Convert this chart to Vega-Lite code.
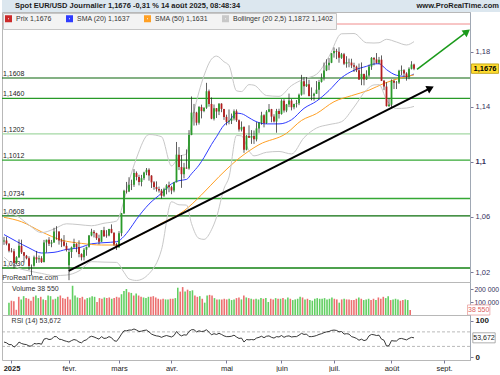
{
"$schema": "https://vega.github.io/schema/vega-lite/v6.json",
"padding": 0,
"background": "white",
"spacing": 0,
"bounds": "flush",
"config": {
  "font": "Liberation Sans",
  "view": {"stroke": "#b8b8b8"},
  "concat": {"spacing": 0},
  "axis": {"grid": false, "title": null, "labelFontSize": 7.5, "labelColor": "#34305a", "domainColor": "#a0a8b4", "tickColor": "#7a7a9a", "tickSize": 3, "labelPadding": 2, "labelOverlap": false, "labelFlush": false}
},
"resolve": {"scale": {"x": "independent", "y": "independent", "color": "independent", "stroke": "independent", "strokeWidth": "independent"}, "legend": {"color": "independent"}},
"datasets": {
  "entete": [{"k": "titre", "t": "Spot EUR/USD Journalier 1,1676 -0,31 % 14 août 2025, 08:48:34"}, {"k": "site", "t": "www.ProRealTime.com"}],
  "niveaux": [
    {"p": 1.2, "k": "r"},
    {"p": 1.1608, "k": "a", "t": "1,1608"},
    {"p": 1.146, "k": "b", "t": "1,1460"},
    {"p": 1.1202, "k": "c", "t": "1,1202"},
    {"p": 1.1012, "k": "e", "t": "1,1012"},
    {"p": 1.0734, "k": "e", "t": "1,0734"},
    {"p": 1.0608, "k": "d", "t": "1,0608"},
    {"p": 1.023, "k": "f", "t": "1,0230"}
  ],
  "tendances": [
    {"nom": "support", "x1": 22.9, "p1": 1.0209, "x2": 167.6, "p2": 1.1535},
    {"nom": "objectif", "x1": 162.2, "p1": 1.1671, "x2": 182.2, "p2": 1.1944}
  ],
  "etiquettes": [
    {"panneau": "prix", "val": 1.1676, "t": "1,1676"},
    {"panneau": "volume", "val": 38550, "t": "38 550"},
    {"panneau": "rsi", "val": 53.672, "t": "53,672"}
  ],
  "rsiniv": [{"n": 70}, {"n": 30}],
  "indicateurs": [
    {"i": -3, "s": "m20", "v": 1.0472}, {"i": 2, "s": "m20", "v": 1.0422}, {"i": 7, "s": "m20", "v": 1.0375}, {"i": 12, "s": "m20", "v": 1.0338}, {"i": 17, "s": "m20", "v": 1.0343}, {"i": 22, "s": "m20", "v": 1.0364}, {"i": 27, "s": "m20", "v": 1.0376}, {"i": 32, "s": "m20", "v": 1.0405}, {"i": 37, "s": "m20", "v": 1.0413}, {"i": 42, "s": "m20", "v": 1.042}, {"i": 45, "s": "m20", "v": 1.0459}, {"i": 47, "s": "m20", "v": 1.0504}, {"i": 50, "s": "m20", "v": 1.0583}, {"i": 55, "s": "m20", "v": 1.0693}, {"i": 60, "s": "m20", "v": 1.0772}, {"i": 64, "s": "m20", "v": 1.084}, {"i": 67, "s": "m20", "v": 1.0863}, {"i": 70, "s": "m20", "v": 1.0872}, {"i": 72, "s": "m20", "v": 1.0913}, {"i": 75, "s": "m20", "v": 1.0976}, {"i": 77, "s": "m20", "v": 1.1031}, {"i": 80, "s": "m20", "v": 1.1126}, {"i": 82, "s": "m20", "v": 1.1182}, {"i": 85, "s": "m20", "v": 1.1266}, {"i": 87, "s": "m20", "v": 1.1294}, {"i": 90, "s": "m20", "v": 1.1353}, {"i": 92, "s": "m20", "v": 1.1349}, {"i": 95, "s": "m20", "v": 1.132}, {"i": 97, "s": "m20", "v": 1.1299}, {"i": 102, "s": "m20", "v": 1.1275}, {"i": 107, "s": "m20", "v": 1.1275}, {"i": 112, "s": "m20", "v": 1.1305}, {"i": 117, "s": "m20", "v": 1.1388}, {"i": 122, "s": "m20", "v": 1.144}, {"i": 127, "s": "m20", "v": 1.1517}, {"i": 132, "s": "m20", "v": 1.161}, {"i": 137, "s": "m20", "v": 1.1664}, {"i": 142, "s": "m20", "v": 1.1693}, {"i": 145, "s": "m20", "v": 1.171}, {"i": 147, "s": "m20", "v": 1.1712}, {"i": 150, "s": "m20", "v": 1.1669}, {"i": 154, "s": "m20", "v": 1.1628}, {"i": 158, "s": "m20", "v": 1.1619}, {"i": 161, "s": "m20", "v": 1.1637},
    {"i": -3, "s": "m50", "v": 1.0597}, {"i": 4, "s": "m50", "v": 1.0565}, {"i": 12, "s": "m50", "v": 1.0492}, {"i": 20, "s": "m50", "v": 1.0432}, {"i": 28, "s": "m50", "v": 1.0408}, {"i": 36, "s": "m50", "v": 1.0396}, {"i": 42, "s": "m50", "v": 1.0396}, {"i": 49, "s": "m50", "v": 1.0445}, {"i": 60, "s": "m50", "v": 1.0554}, {"i": 69, "s": "m50", "v": 1.0644}, {"i": 76, "s": "m50", "v": 1.076}, {"i": 83, "s": "m50", "v": 1.0892}, {"i": 91, "s": "m50", "v": 1.1025}, {"i": 99, "s": "m50", "v": 1.1124}, {"i": 110, "s": "m50", "v": 1.1207}, {"i": 116, "s": "m50", "v": 1.13}, {"i": 122, "s": "m50", "v": 1.135}, {"i": 129, "s": "m50", "v": 1.1436}, {"i": 136, "s": "m50", "v": 1.148}, {"i": 143, "s": "m50", "v": 1.152}, {"i": 149, "s": "m50", "v": 1.1569}, {"i": 155, "s": "m50", "v": 1.1605}, {"i": 161, "s": "m50", "v": 1.1631},
    {"i": -3, "s": "bb", "b": "haut", "v": 1.0635}, {"i": 2, "s": "bb", "b": "haut", "v": 1.0609}, {"i": 7, "s": "bb", "b": "haut", "v": 1.0541}, {"i": 12, "s": "bb", "b": "haut", "v": 1.0486}, {"i": 17, "s": "bb", "b": "haut", "v": 1.0512}, {"i": 22, "s": "bb", "b": "haut", "v": 1.055}, {"i": 27, "s": "bb", "b": "haut", "v": 1.0544}, {"i": 32, "s": "bb", "b": "haut", "v": 1.0536}, {"i": 37, "s": "bb", "b": "haut", "v": 1.0554}, {"i": 42, "s": "bb", "b": "haut", "v": 1.057}, {"i": 45, "s": "bb", "b": "haut", "v": 1.072}, {"i": 47, "s": "bb", "b": "haut", "v": 1.0858}, {"i": 50, "s": "bb", "b": "haut", "v": 1.1027}, {"i": 55, "s": "bb", "b": "haut", "v": 1.1198}, {"i": 60, "s": "bb", "b": "haut", "v": 1.1182}, {"i": 64, "s": "bb", "b": "haut", "v": 1.097}, {"i": 67, "s": "bb", "b": "haut", "v": 1.1038}, {"i": 70, "s": "bb", "b": "haut", "v": 1.1058}, {"i": 72, "s": "bb", "b": "haut", "v": 1.1274}, {"i": 75, "s": "bb", "b": "haut", "v": 1.1508}, {"i": 77, "s": "bb", "b": "haut", "v": 1.1625}, {"i": 80, "s": "bb", "b": "haut", "v": 1.1745}, {"i": 82, "s": "bb", "b": "haut", "v": 1.1767}, {"i": 85, "s": "bb", "b": "haut", "v": 1.1726}, {"i": 87, "s": "bb", "b": "haut", "v": 1.1699}, {"i": 90, "s": "bb", "b": "haut", "v": 1.1515}, {"i": 92, "s": "bb", "b": "haut", "v": 1.151}, {"i": 95, "s": "bb", "b": "haut", "v": 1.156}, {"i": 97, "s": "bb", "b": "haut", "v": 1.1556}, {"i": 102, "s": "bb", "b": "haut", "v": 1.1481}, {"i": 107, "s": "bb", "b": "haut", "v": 1.1475}, {"i": 112, "s": "bb", "b": "haut", "v": 1.1553}, {"i": 117, "s": "bb", "b": "haut", "v": 1.1601}, {"i": 122, "s": "bb", "b": "haut", "v": 1.1635}, {"i": 127, "s": "bb", "b": "haut", "v": 1.1764}, {"i": 132, "s": "bb", "b": "haut", "v": 1.1929}, {"i": 137, "s": "bb", "b": "haut", "v": 1.1931}, {"i": 142, "s": "bb", "b": "haut", "v": 1.1864}, {"i": 145, "s": "bb", "b": "haut", "v": 1.1862}, {"i": 147, "s": "bb", "b": "haut", "v": 1.1864}, {"i": 150, "s": "bb", "b": "haut", "v": 1.1889}, {"i": 154, "s": "bb", "b": "haut", "v": 1.1869}, {"i": 158, "s": "bb", "b": "haut", "v": 1.1848}, {"i": 161, "s": "bb", "b": "haut", "v": 1.1872},
    {"i": -3, "s": "bb", "b": "bas", "v": 1.0308}, {"i": 2, "s": "bb", "b": "bas", "v": 1.0235}, {"i": 7, "s": "bb", "b": "bas", "v": 1.0208}, {"i": 12, "s": "bb", "b": "bas", "v": 1.019}, {"i": 17, "s": "bb", "b": "bas", "v": 1.0174}, {"i": 22, "s": "bb", "b": "bas", "v": 1.0178}, {"i": 27, "s": "bb", "b": "bas", "v": 1.0208}, {"i": 32, "s": "bb", "b": "bas", "v": 1.0275}, {"i": 37, "s": "bb", "b": "bas", "v": 1.0272}, {"i": 42, "s": "bb", "b": "bas", "v": 1.027}, {"i": 45, "s": "bb", "b": "bas", "v": 1.0198}, {"i": 47, "s": "bb", "b": "bas", "v": 1.015}, {"i": 50, "s": "bb", "b": "bas", "v": 1.0139}, {"i": 55, "s": "bb", "b": "bas", "v": 1.0188}, {"i": 60, "s": "bb", "b": "bas", "v": 1.0362}, {"i": 64, "s": "bb", "b": "bas", "v": 1.071}, {"i": 67, "s": "bb", "b": "bas", "v": 1.0688}, {"i": 70, "s": "bb", "b": "bas", "v": 1.0686}, {"i": 72, "s": "bb", "b": "bas", "v": 1.0552}, {"i": 75, "s": "bb", "b": "bas", "v": 1.0444}, {"i": 77, "s": "bb", "b": "bas", "v": 1.0437}, {"i": 80, "s": "bb", "b": "bas", "v": 1.0507}, {"i": 82, "s": "bb", "b": "bas", "v": 1.0597}, {"i": 85, "s": "bb", "b": "bas", "v": 1.0806}, {"i": 87, "s": "bb", "b": "bas", "v": 1.0889}, {"i": 90, "s": "bb", "b": "bas", "v": 1.1191}, {"i": 92, "s": "bb", "b": "bas", "v": 1.1188}, {"i": 95, "s": "bb", "b": "bas", "v": 1.108}, {"i": 97, "s": "bb", "b": "bas", "v": 1.1043}, {"i": 102, "s": "bb", "b": "bas", "v": 1.1069}, {"i": 107, "s": "bb", "b": "bas", "v": 1.1075}, {"i": 112, "s": "bb", "b": "bas", "v": 1.1057}, {"i": 117, "s": "bb", "b": "bas", "v": 1.1175}, {"i": 122, "s": "bb", "b": "bas", "v": 1.1245}, {"i": 127, "s": "bb", "b": "bas", "v": 1.127}, {"i": 132, "s": "bb", "b": "bas", "v": 1.1291}, {"i": 137, "s": "bb", "b": "bas", "v": 1.1397}, {"i": 142, "s": "bb", "b": "bas", "v": 1.1522}, {"i": 145, "s": "bb", "b": "bas", "v": 1.1558}, {"i": 147, "s": "bb", "b": "bas", "v": 1.156}, {"i": 150, "s": "bb", "b": "bas", "v": 1.145}, {"i": 154, "s": "bb", "b": "bas", "v": 1.1387}, {"i": 158, "s": "bb", "b": "bas", "v": 1.139}, {"i": 161, "s": "bb", "b": "bas", "v": 1.1402}
  ],
  "bougies": [
    {"i":-3,"o":1.0422,"h":1.0455,"l":1.0397,"c":1.0429,"v":95000,"r":42},
    {"i":-2,"o":1.0429,"h":1.0456,"l":1.0394,"c":1.0406,"v":110000,"r":40},
    {"i":-1,"o":1.0406,"h":1.041,"l":1.0343,"c":1.0354,"v":105000,"r":35},
    {"i":0,"o":1.0354,"h":1.0374,"l":1.0342,"c":1.035,"v":40000,"r":35},
    {"i":1,"o":1.035,"h":1.0368,"l":1.0226,"c":1.0266,"v":140000,"r":28},
    {"i":2,"o":1.0266,"h":1.0315,"l":1.0255,"c":1.0308,"v":120000,"r":33},
    {"i":3,"o":1.0308,"h":1.0437,"l":1.0301,"c":1.039,"v":145000,"r":42},
    {"i":4,"o":1.039,"h":1.0435,"l":1.0331,"c":1.0343,"v":130000,"r":38},
    {"i":5,"o":1.0343,"h":1.0345,"l":1.027,"c":1.0318,"v":125000,"r":36},
    {"i":6,"o":1.0318,"h":1.0324,"l":1.0292,"c":1.03,"v":110000,"r":35},
    {"i":7,"o":1.03,"h":1.0314,"l":1.0214,"c":1.0244,"v":140000,"r":31},
    {"i":8,"o":1.0244,"h":1.0255,"l":1.0178,"c":1.0245,"v":150000,"r":31},
    {"i":9,"o":1.0245,"h":1.0319,"l":1.0239,"c":1.0307,"v":130000,"r":38},
    {"i":10,"o":1.0307,"h":1.0353,"l":1.0266,"c":1.0292,"v":140000,"r":37},
    {"i":11,"o":1.0292,"h":1.032,"l":1.0268,"c":1.03,"v":120000,"r":38},
    {"i":12,"o":1.03,"h":1.0315,"l":1.0266,"c":1.0272,"v":115000,"r":36},
    {"i":13,"o":1.0272,"h":1.0433,"l":1.0269,"c":1.0415,"v":150000,"r":50},
    {"i":14,"o":1.0415,"h":1.0435,"l":1.0342,"c":1.0434,"v":145000,"r":52},
    {"i":15,"o":1.0434,"h":1.0453,"l":1.0389,"c":1.0406,"v":120000,"r":49},
    {"i":16,"o":1.0406,"h":1.0433,"l":1.038,"c":1.0415,"v":125000,"r":50},
    {"i":17,"o":1.0415,"h":1.0521,"l":1.0412,"c":1.0495,"v":140000,"r":57},
    {"i":18,"o":1.0495,"h":1.0533,"l":1.0434,"c":1.0494,"v":150000,"r":57},
    {"i":19,"o":1.0494,"h":1.0495,"l":1.0399,"c":1.0429,"v":130000,"r":50},
    {"i":20,"o":1.0429,"h":1.0444,"l":1.0381,"c":1.0421,"v":125000,"r":49},
    {"i":21,"o":1.0421,"h":1.0468,"l":1.0385,"c":1.039,"v":140000,"r":46},
    {"i":22,"o":1.039,"h":1.0413,"l":1.0349,"c":1.0362,"v":120000,"r":44},
    {"i":23,"o":1.025,"h":1.0368,"l":1.0141,"c":1.0345,"v":225000,"r":42},
    {"i":24,"o":1.0345,"h":1.0385,"l":1.0302,"c":1.0379,"v":150000,"r":46},
    {"i":25,"o":1.0379,"h":1.0442,"l":1.0374,"c":1.0404,"v":135000,"r":49},
    {"i":26,"o":1.0404,"h":1.0409,"l":1.0344,"c":1.0382,"v":130000,"r":47},
    {"i":27,"o":1.0382,"h":1.043,"l":1.0307,"c":1.033,"v":140000,"r":42},
    {"i":28,"o":1.033,"h":1.0336,"l":1.0284,"c":1.0307,"v":120000,"r":40},
    {"i":29,"o":1.0307,"h":1.0375,"l":1.0284,"c":1.0362,"v":130000,"r":46},
    {"i":30,"o":1.0362,"h":1.0384,"l":1.0318,"c":1.0383,"v":135000,"r":48},
    {"i":31,"o":1.0383,"h":1.0469,"l":1.0377,"c":1.0465,"v":145000,"r":55},
    {"i":32,"o":1.0465,"h":1.0514,"l":1.0459,"c":1.0492,"v":140000,"r":58},
    {"i":33,"o":1.0492,"h":1.0505,"l":1.0451,"c":1.0482,"v":100000,"r":56},
    {"i":34,"o":1.0482,"h":1.0485,"l":1.0433,"c":1.0446,"v":130000,"r":53},
    {"i":35,"o":1.0446,"h":1.0471,"l":1.0401,"c":1.042,"v":125000,"r":50},
    {"i":36,"o":1.042,"h":1.0505,"l":1.0419,"c":1.0504,"v":135000,"r":57},
    {"i":37,"o":1.0504,"h":1.0528,"l":1.0455,"c":1.0459,"v":130000,"r":52},
    {"i":38,"o":1.047,"h":1.0504,"l":1.0449,"c":1.0466,"v":135000,"r":53},
    {"i":39,"o":1.0466,"h":1.0514,"l":1.0459,"c":1.0513,"v":125000,"r":57},
    {"i":40,"o":1.0513,"h":1.0546,"l":1.0481,"c":1.0485,"v":130000,"r":54},
    {"i":41,"o":1.0485,"h":1.0488,"l":1.039,"c":1.04,"v":140000,"r":46},
    {"i":42,"o":1.04,"h":1.0411,"l":1.036,"c":1.0378,"v":135000,"r":44},
    {"i":43,"o":1.0378,"h":1.0497,"l":1.0378,"c":1.0482,"v":160000,"r":53},
    {"i":44,"o":1.0482,"h":1.0629,"l":1.046,"c":1.0627,"v":185000,"r":64},
    {"i":45,"o":1.0627,"h":1.0797,"l":1.0621,"c":1.0789,"v":200000,"r":73},
    {"i":46,"o":1.0789,"h":1.0854,"l":1.077,"c":1.0785,"v":175000,"r":73},
    {"i":47,"o":1.0785,"h":1.0888,"l":1.078,"c":1.0833,"v":170000,"r":75},
    {"i":48,"o":1.0835,"h":1.087,"l":1.0795,"c":1.0833,"v":150000,"r":75},
    {"i":49,"o":1.0833,"h":1.0947,"l":1.0818,"c":1.0919,"v":165000,"r":78},
    {"i":50,"o":1.0919,"h":1.093,"l":1.0865,"c":1.089,"v":150000,"r":75},
    {"i":51,"o":1.089,"h":1.0906,"l":1.0829,"c":1.0853,"v":140000,"r":71},
    {"i":52,"o":1.0853,"h":1.0905,"l":1.0822,"c":1.0881,"v":135000,"r":72},
    {"i":53,"o":1.0881,"h":1.0928,"l":1.0867,"c":1.0923,"v":130000,"r":74},
    {"i":54,"o":1.0923,"h":1.0955,"l":1.0903,"c":1.0942,"v":140000,"r":75},
    {"i":55,"o":1.0942,"h":1.0953,"l":1.0863,"c":1.09,"v":140000,"r":70},
    {"i":56,"o":1.09,"h":1.0903,"l":1.081,"c":1.0851,"v":145000,"r":64},
    {"i":57,"o":1.0851,"h":1.086,"l":1.0797,"c":1.0817,"v":135000,"r":61},
    {"i":58,"o":1.0817,"h":1.0858,"l":1.0784,"c":1.0802,"v":125000,"r":59},
    {"i":59,"o":1.0802,"h":1.082,"l":1.0777,"c":1.0791,"v":120000,"r":58},
    {"i":60,"o":1.0791,"h":1.0803,"l":1.0733,"c":1.0753,"v":125000,"r":55},
    {"i":61,"o":1.0753,"h":1.0812,"l":1.0745,"c":1.08,"v":120000,"r":58},
    {"i":62,"o":1.08,"h":1.0838,"l":1.0764,"c":1.0829,"v":120000,"r":60},
    {"i":63,"o":1.0829,"h":1.0856,"l":1.0779,"c":1.0816,"v":125000,"r":58},
    {"i":64,"o":1.0816,"h":1.0826,"l":1.0765,"c":1.0792,"v":125000,"r":56},
    {"i":65,"o":1.0792,"h":1.0854,"l":1.0779,"c":1.0852,"v":130000,"r":60},
    {"i":66,"o":1.0852,"h":1.1144,"l":1.085,"c":1.1052,"v":210000,"r":71},
    {"i":67,"o":1.1052,"h":1.1107,"l":1.094,"c":1.0962,"v":180000,"r":63},
    {"i":68,"o":1.0962,"h":1.1049,"l":1.0811,"c":1.091,"v":215000,"r":59},
    {"i":69,"o":1.091,"h":1.0992,"l":1.088,"c":1.0958,"v":180000,"r":62},
    {"i":70,"o":1.0958,"h":1.109,"l":1.095,"c":1.0951,"v":195000,"r":61},
    {"i":71,"o":1.0951,"h":1.123,"l":1.0943,"c":1.1195,"v":185000,"r":71},
    {"i":72,"o":1.1195,"h":1.1474,"l":1.1193,"c":1.1357,"v":190000,"r":76},
    {"i":73,"o":1.136,"h":1.142,"l":1.1263,"c":1.1357,"v":150000,"r":76},
    {"i":74,"o":1.1357,"h":1.1363,"l":1.1264,"c":1.1284,"v":140000,"r":70},
    {"i":75,"o":1.1284,"h":1.1405,"l":1.127,"c":1.1397,"v":145000,"r":73},
    {"i":76,"o":1.1397,"h":1.1415,"l":1.1315,"c":1.1368,"v":125000,"r":71},
    {"i":77,"o":1.1368,"h":1.1395,"l":1.136,"c":1.1393,"v":95000,"r":72},
    {"i":78,"o":1.1393,"h":1.1573,"l":1.1384,"c":1.1512,"v":150000,"r":76},
    {"i":79,"o":1.1512,"h":1.1524,"l":1.14,"c":1.142,"v":155000,"r":69},
    {"i":80,"o":1.142,"h":1.1467,"l":1.1309,"c":1.1313,"v":150000,"r":62},
    {"i":81,"o":1.1313,"h":1.1416,"l":1.13,"c":1.1389,"v":130000,"r":65},
    {"i":82,"o":1.1389,"h":1.139,"l":1.1318,"c":1.1365,"v":120000,"r":63},
    {"i":83,"o":1.1365,"h":1.1426,"l":1.1339,"c":1.1422,"v":120000,"r":66},
    {"i":84,"o":1.1422,"h":1.1425,"l":1.136,"c":1.1384,"v":120000,"r":63},
    {"i":85,"o":1.1384,"h":1.1384,"l":1.1304,"c":1.1326,"v":125000,"r":59},
    {"i":86,"o":1.1326,"h":1.1342,"l":1.1265,"c":1.129,"v":120000,"r":57},
    {"i":87,"o":1.129,"h":1.138,"l":1.1272,"c":1.1298,"v":125000,"r":57},
    {"i":88,"o":1.1298,"h":1.135,"l":1.1274,"c":1.1315,"v":115000,"r":58},
    {"i":89,"o":1.1315,"h":1.138,"l":1.13,"c":1.1367,"v":120000,"r":61},
    {"i":90,"o":1.1367,"h":1.138,"l":1.129,"c":1.1302,"v":130000,"r":56},
    {"i":91,"o":1.1302,"h":1.1307,"l":1.1219,"c":1.1234,"v":135000,"r":52},
    {"i":92,"o":1.1234,"h":1.1293,"l":1.122,"c":1.1252,"v":120000,"r":53},
    {"i":93,"o":1.1252,"h":1.1258,"l":1.1065,"c":1.1088,"v":150000,"r":42},
    {"i":94,"o":1.1088,"h":1.1195,"l":1.1083,"c":1.1188,"v":135000,"r":49},
    {"i":95,"o":1.1188,"h":1.1265,"l":1.1173,"c":1.1175,"v":130000,"r":48},
    {"i":96,"o":1.1175,"h":1.123,"l":1.113,"c":1.1187,"v":125000,"r":49},
    {"i":97,"o":1.1187,"h":1.1227,"l":1.113,"c":1.1163,"v":120000,"r":48},
    {"i":98,"o":1.1163,"h":1.1288,"l":1.1148,"c":1.1242,"v":125000,"r":53},
    {"i":99,"o":1.1242,"h":1.1287,"l":1.121,"c":1.1283,"v":120000,"r":55},
    {"i":100,"o":1.1283,"h":1.1363,"l":1.1269,"c":1.1337,"v":130000,"r":58},
    {"i":101,"o":1.1337,"h":1.1345,"l":1.125,"c":1.1281,"v":125000,"r":54},
    {"i":102,"o":1.1281,"h":1.1375,"l":1.1275,"c":1.1364,"v":130000,"r":58},
    {"i":103,"o":1.1364,"h":1.1419,"l":1.1359,"c":1.1382,"v":100000,"r":59},
    {"i":104,"o":1.1382,"h":1.1384,"l":1.1287,"c":1.1328,"v":125000,"r":55},
    {"i":105,"o":1.1328,"h":1.1345,"l":1.1285,"c":1.1292,"v":120000,"r":53},
    {"i":106,"o":1.1292,"h":1.1384,"l":1.1211,"c":1.1369,"v":130000,"r":57},
    {"i":107,"o":1.1369,"h":1.1385,"l":1.1314,"c":1.1347,"v":125000,"r":56},
    {"i":108,"o":1.1347,"h":1.1454,"l":1.1342,"c":1.1443,"v":125000,"r":60},
    {"i":109,"o":1.1443,"h":1.1455,"l":1.1357,"c":1.1372,"v":130000,"r":55},
    {"i":110,"o":1.1372,"h":1.142,"l":1.136,"c":1.1416,"v":120000,"r":58},
    {"i":111,"o":1.1416,"h":1.1495,"l":1.1397,"c":1.1444,"v":135000,"r":59},
    {"i":112,"o":1.1444,"h":1.1455,"l":1.1373,"c":1.1396,"v":125000,"r":56},
    {"i":113,"o":1.1396,"h":1.1422,"l":1.1381,"c":1.142,"v":115000,"r":57},
    {"i":114,"o":1.142,"h":1.1448,"l":1.1394,"c":1.1425,"v":120000,"r":57},
    {"i":115,"o":1.1425,"h":1.1495,"l":1.1411,"c":1.1487,"v":125000,"r":61},
    {"i":116,"o":1.1487,"h":1.1631,"l":1.148,"c":1.1584,"v":140000,"r":66},
    {"i":117,"o":1.1584,"h":1.1614,"l":1.1489,"c":1.1549,"v":135000,"r":63},
    {"i":118,"o":1.1549,"h":1.1615,"l":1.1543,"c":1.1563,"v":120000,"r":64},
    {"i":119,"o":1.1563,"h":1.1595,"l":1.1474,"c":1.1478,"v":125000,"r":57},
    {"i":120,"o":1.1478,"h":1.154,"l":1.1446,"c":1.148,"v":115000,"r":57},
    {"i":121,"o":1.148,"h":1.1501,"l":1.1444,"c":1.1494,"v":110000,"r":58},
    {"i":122,"o":1.1494,"h":1.1586,"l":1.1493,"c":1.1523,"v":125000,"r":60},
    {"i":123,"o":1.1523,"h":1.1595,"l":1.1453,"c":1.158,"v":130000,"r":63},
    {"i":124,"o":1.158,"h":1.1641,"l":1.1575,"c":1.161,"v":125000,"r":65},
    {"i":125,"o":1.161,"h":1.172,"l":1.159,"c":1.1663,"v":125000,"r":68},
    {"i":126,"o":1.1663,"h":1.1744,"l":1.1658,"c":1.17,"v":130000,"r":70},
    {"i":127,"o":1.17,"h":1.1753,"l":1.1665,"c":1.1719,"v":120000,"r":71},
    {"i":128,"o":1.1719,"h":1.1789,"l":1.1716,"c":1.1787,"v":125000,"r":74},
    {"i":129,"o":1.1787,"h":1.183,"l":1.1756,"c":1.1804,"v":135000,"r":75},
    {"i":130,"o":1.1804,"h":1.182,"l":1.1745,"c":1.1799,"v":125000,"r":74},
    {"i":131,"o":1.1799,"h":1.1831,"l":1.1719,"c":1.1755,"v":120000,"r":70},
    {"i":132,"o":1.1755,"h":1.179,"l":1.1747,"c":1.178,"v":95000,"r":71},
    {"i":133,"o":1.178,"h":1.179,"l":1.1702,"c":1.1712,"v":120000,"r":64},
    {"i":134,"o":1.1712,"h":1.1766,"l":1.1683,"c":1.1723,"v":125000,"r":65},
    {"i":135,"o":1.1723,"h":1.1749,"l":1.1686,"c":1.172,"v":120000,"r":64},
    {"i":136,"o":1.172,"h":1.1748,"l":1.168,"c":1.17,"v":120000,"r":57},
    {"i":137,"o":1.17,"h":1.1719,"l":1.1652,"c":1.169,"v":115000,"r":55},
    {"i":138,"o":1.169,"h":1.1698,"l":1.1651,"c":1.1665,"v":115000,"r":52},
    {"i":139,"o":1.1665,"h":1.1713,"l":1.1594,"c":1.1598,"v":125000,"r":47},
    {"i":140,"o":1.1598,"h":1.1721,"l":1.1556,"c":1.1638,"v":135000,"r":50},
    {"i":141,"o":1.1638,"h":1.164,"l":1.1555,"c":1.1597,"v":125000,"r":46},
    {"i":142,"o":1.1597,"h":1.1664,"l":1.1594,"c":1.1626,"v":115000,"r":48},
    {"i":143,"o":1.1626,"h":1.1705,"l":1.1615,"c":1.1691,"v":120000,"r":59},
    {"i":144,"o":1.1691,"h":1.176,"l":1.1667,"c":1.1754,"v":125000,"r":63},
    {"i":145,"o":1.1754,"h":1.176,"l":1.17,"c":1.1743,"v":115000,"r":62},
    {"i":146,"o":1.1743,"h":1.1789,"l":1.1713,"c":1.1718,"v":125000,"r":60},
    {"i":147,"o":1.1718,"h":1.1761,"l":1.1708,"c":1.1741,"v":115000,"r":61},
    {"i":148,"o":1.1741,"h":1.1772,"l":1.1586,"c":1.1588,"v":135000,"r":50},
    {"i":149,"o":1.1588,"h":1.1594,"l":1.152,"c":1.1546,"v":125000,"r":47},
    {"i":150,"o":1.1546,"h":1.1577,"l":1.1401,"c":1.1404,"v":140000,"r":31},
    {"i":151,"o":1.1404,"h":1.146,"l":1.14,"c":1.1415,"v":130000,"r":32},
    {"i":152,"o":1.1415,"h":1.1598,"l":1.1392,"c":1.1587,"v":145000,"r":46},
    {"i":153,"o":1.1587,"h":1.1597,"l":1.1528,"c":1.1573,"v":115000,"r":45},
    {"i":154,"o":1.1573,"h":1.1586,"l":1.1528,"c":1.1575,"v":120000,"r":45},
    {"i":155,"o":1.1575,"h":1.1668,"l":1.1565,"c":1.166,"v":125000,"r":51},
    {"i":156,"o":1.166,"h":1.1699,"l":1.1628,"c":1.1665,"v":120000,"r":52},
    {"i":157,"o":1.1665,"h":1.1672,"l":1.1618,"c":1.1641,"v":110000,"r":50},
    {"i":158,"o":1.1641,"h":1.165,"l":1.1589,"c":1.1615,"v":115000,"r":48},
    {"i":159,"o":1.1615,"h":1.1686,"l":1.1599,"c":1.1675,"v":120000,"r":52},
    {"i":160,"o":1.1675,"h":1.173,"l":1.167,"c":1.1706,"v":115000,"r":55},
    {"i":161,"o":1.1706,"h":1.1712,"l":1.1665,"c":1.1676,"v":38550,"r":53.672}
  ]
},
"vconcat": [
  {
    "width": 500, "height": 12,
    "view": {"fill": "#dce7ef", "stroke": null},
    "data": {"name": "entete"},
    "layer": [
      {"transform": [{"filter": "datum.k == 'titre'"}],
       "mark": {"type": "text", "align": "left", "fontWeight": "bold", "fontSize": 7.5, "color": "#1c1c1c"},
       "encoding": {"x": {"field": "k", "type": "nominal", "scale": {"type": "point", "domain": ["titre", "site"], "range": [13, 497], "padding": 0}, "axis": null}, "text": {"field": "t"}}},
      {"transform": [{"filter": "datum.k == 'site'"}],
       "mark": {"type": "text", "align": "right", "fontWeight": "bold", "fontSize": 7.5, "color": "#1c1c1c"},
       "encoding": {"x": {"field": "k", "type": "nominal", "scale": {"type": "point", "domain": ["titre", "site"], "range": [13, 497], "padding": 0}, "axis": null}, "text": {"field": "t"}}}
    ]
  },
  {
    "width": 468, "height": 270,
    "title": {"text": "ProRealTime.com", "orient": "bottom", "anchor": "start", "offset": -8, "fontSize": 7, "fontWeight": "normal", "color": "#333", "dx": 1},
    "layer": [
      {"data": {"name": "niveaux"}, "mark": {"type": "rule"},
       "encoding": {
         "y": {"field": "p", "type": "quantitative", "scale": {"domain": [1.01277, 1.20871], "nice": false, "zero": false},
               "axis": {"orient": "right", "values": [1.02, 1.04, 1.06, 1.08, 1.1, 1.12, 1.14, 1.16, 1.18, 1.2], "labelExpr": "replace(format(datum.value, '.2~f'), '.', ',')", "labelFontWeight": {"condition": {"test": "abs(datum.value*10 - round(datum.value*10)) < 0.001", "value": "bold"}, "value": "normal"}}},
         "stroke": {"field": "k", "type": "nominal", "scale": {"domain": ["r", "a", "b", "c", "d", "e", "f"], "range": ["#f08c8c", "#0a640a", "#289a28", "#a4d8a4", "#0b6e0b", "#34a834", "#128212"]}, "legend": null},
         "strokeWidth": {"field": "k", "type": "ordinal", "scale": {"domain": ["r", "a", "b", "c", "d", "e", "f"], "range": [1, 1.5, 2, 2, 3, 1.5, 2.5]}, "legend": null}
       }},
      {"data": {"name": "niveaux"}, "transform": [{"filter": "isValid(datum.t)"}],
       "mark": {"type": "text", "align": "left", "baseline": "bottom", "dx": 1, "dy": -1, "fontSize": 7, "color": "#222"},
       "encoding": {
         "x": {"datum": -3.8, "type": "quantitative", "scale": {"domain": [-3.8, 183.4], "nice": false, "zero": false}, "axis": null},
         "y": {"field": "p", "type": "quantitative"},
         "text": {"field": "t"}
       }},
      {"data": {"name": "indicateurs"}, "mark": {"type": "line", "strokeWidth": 1, "interpolate": "monotone"},
       "encoding": {
         "x": {"field": "i", "type": "quantitative"},
         "y": {"field": "v", "type": "quantitative"},
         "color": {"field": "s", "type": "nominal", "scale": {"domain": ["prix", "m20", "m50", "bb"], "range": ["#cc2a2a", "#2f3cff", "#ffa024", "#c8c8c8"]},
                   "legend": {"orient": "top-left", "direction": "horizontal", "title": null, "offset": 1, "padding": 2, "fillColor": "#f3f3f3", "strokeColor": "#c6c6c6", "symbolType": "square", "symbolSize": 16, "symbolStrokeWidth": 3, "labelFontSize": 7, "labelColor": "#333", "columnPadding": 9, "labelOffset": 4, "labelLimit": 300,
                              "labelExpr": "datum.label == 'prix' ? 'Prix 1,1676' : datum.label == 'm20' ? 'SMA (20) 1,1637' : datum.label == 'm50' ? 'SMA (50) 1,1631' : 'Bollinger (20 2,5) 1,1872 1,1402'"}},
         "detail": {"field": "b"}
       }},
      {"data": {"name": "bougies"}, "mark": {"type": "rule", "color": "#1a1a1a", "strokeWidth": 0.7},
       "encoding": {"x": {"field": "i", "type": "quantitative"}, "y": {"field": "l", "type": "quantitative"}, "y2": {"field": "h"}}},
      {"data": {"name": "bougies"}, "mark": {"type": "rule", "strokeWidth": 1.8},
       "encoding": {"x": {"field": "i", "type": "quantitative"}, "y": {"field": "o", "type": "quantitative"}, "y2": {"field": "c"},
                    "color": {"condition": {"test": "datum.c >= datum.o", "value": "#2a9a2a"}, "value": "#b41e1e"}}},
      {"data": {"name": "tendances"}, "transform": [{"filter": "datum.nom == 'support'"}], "mark": {"type": "rule", "color": "#000", "strokeWidth": 2},
       "encoding": {"x": {"field": "x1", "type": "quantitative"}, "y": {"field": "p1", "type": "quantitative"}, "x2": {"field": "x2"}, "y2": {"field": "p2"}}},
      {"data": {"name": "tendances"}, "transform": [{"filter": "datum.nom == 'objectif'"}], "mark": {"type": "rule", "color": "#1a9a1a", "strokeWidth": 1.5},
       "encoding": {"x": {"field": "x1", "type": "quantitative"}, "y": {"field": "p1", "type": "quantitative"}, "x2": {"field": "x2"}, "y2": {"field": "p2"}}},
      {"data": {"name": "tendances"}, "transform": [{"filter": "datum.nom == 'support'"}], "mark": {"type": "point", "shape": "triangle-up", "filled": true, "color": "#000", "opacity": 1, "size": 70, "angle": 63.2},
       "encoding": {"x": {"field": "x2", "type": "quantitative"}, "y": {"field": "p2", "type": "quantitative"}}},
      {"data": {"name": "tendances"}, "transform": [{"filter": "datum.nom == 'objectif'"}], "mark": {"type": "point", "shape": "triangle-up", "filled": true, "color": "#1a9a1a", "opacity": 1, "size": 70, "angle": 53.1},
       "encoding": {"x": {"field": "x2", "type": "quantitative"}, "y": {"field": "p2", "type": "quantitative"}}},
      {"data": {"name": "etiquettes"}, "transform": [{"filter": "datum.panneau == 'prix'"}],
       "mark": {"type": "point", "shape": "M-1,-0.35L1,-0.35L1,0.35L-1,0.35Z", "size": 729, "filled": true, "fill": "#ffdc30", "stroke": "#b89a10", "strokeWidth": 0.8, "opacity": 1},
       "encoding": {"x": {"datum": 189.4, "type": "quantitative"}, "y": {"field": "val", "type": "quantitative"}}},
      {"data": {"name": "etiquettes"}, "transform": [{"filter": "datum.panneau == 'prix'"}],
       "mark": {"type": "text", "fontWeight": "bold", "fontSize": 7.5, "color": "#000", "baseline": "middle"},
       "encoding": {"x": {"datum": 189.4, "type": "quantitative"}, "y": {"field": "val", "type": "quantitative"}, "text": {"field": "t"}}}
    ]
  },
  {
    "width": 468, "height": 33,
    "title": {"text": "Volume 38 550", "anchor": "start", "offset": -10, "fontSize": 7, "fontWeight": "normal", "color": "#333", "dx": 10},
    "layer": [
      {"data": {"name": "bougies"}, "mark": {"type": "bar", "size": 1.6},
       "encoding": {
         "x": {"field": "i", "type": "quantitative", "scale": {"domain": [-3.8, 183.4], "nice": false, "zero": false}, "axis": null},
         "y": {"field": "v", "type": "quantitative", "scale": {"domain": [0, 254000], "nice": false},
               "axis": {"orient": "right", "values": [100000, 200000], "labelFontSize": 6.8, "labelPadding": 1, "labelExpr": "replace(format(datum.value, ','), ',', ' ')"}},
         "color": {"condition": {"test": "datum.c >= datum.o", "value": "#62cf62"}, "value": "#ec7070"}
       }},
      {"data": {"name": "etiquettes"}, "transform": [{"filter": "datum.panneau == 'volume'"}],
       "mark": {"type": "point", "shape": "M-1,-0.45L1,-0.45L1,0.45L-1,0.45Z", "size": 500, "filled": true, "fill": "#ffffff", "stroke": "#e8a0a0", "strokeWidth": 0.8, "opacity": 1},
       "encoding": {"x": {"datum": 189, "type": "quantitative"}, "y": {"field": "val", "type": "quantitative"}}},
      {"data": {"name": "etiquettes"}, "transform": [{"filter": "datum.panneau == 'volume'"}],
       "mark": {"type": "text", "fontSize": 7, "color": "#e06060", "baseline": "middle"},
       "encoding": {"x": {"datum": 189, "type": "quantitative"}, "y": {"field": "val", "type": "quantitative"}, "text": {"field": "t"}}}
    ]
  },
  {
    "width": 468, "height": 45,
    "title": {"text": "RSI (14) 53,672", "anchor": "start", "offset": -9, "fontSize": 7, "fontWeight": "normal", "color": "#333", "dx": 10},
    "layer": [
      {"data": {"name": "rsiniv"}, "mark": {"type": "rule", "color": "#a8a8a8", "strokeDash": [3, 2], "strokeWidth": 0.8},
       "encoding": {"y": {"field": "n", "type": "quantitative", "scale": {"domain": [-7.4, 116.5], "nice": false, "zero": false},
                          "axis": {"orient": "right", "values": [0, 100], "labelFontWeight": "bold", "labelFontSize": 8, "labelColor": "#222"}}}},
      {"data": {"name": "bougies"}, "mark": {"type": "line", "color": "#222", "strokeWidth": 0.9},
       "encoding": {
         "x": {"field": "i", "type": "quantitative", "scale": {"domain": [-3.8, 183.4], "nice": false, "zero": false},
               "axis": {"orient": "bottom", "domain": false, "values": [0, 23, 43, 64, 86, 108, 129, 152, 173], "tickSize": 3, "labelPadding": 1, "labelColor": "#222", "labelFontSize": 7.5,
                        "labelFontWeight": {"condition": {"test": "datum.value == 0", "value": "bold"}, "value": "normal"},
                        "labelExpr": "datum.value == 0 ? '2025' : datum.value == 23 ? 'févr.' : datum.value == 43 ? 'mars' : datum.value == 64 ? 'avr.' : datum.value == 86 ? 'mai' : datum.value == 108 ? 'juin' : datum.value == 129 ? 'juil.' : datum.value == 152 ? 'août' : 'sept.'"}},
         "y": {"field": "r", "type": "quantitative"}
       }},
      {"data": {"name": "etiquettes"}, "transform": [{"filter": "datum.panneau == 'rsi'"}],
       "mark": {"type": "point", "shape": "M-1,-0.45L1,-0.45L1,0.45L-1,0.45Z", "size": 500, "filled": true, "fill": "#ffffff", "stroke": "#999", "strokeWidth": 0.8, "opacity": 1},
       "encoding": {"x": {"datum": 189, "type": "quantitative"}, "y": {"field": "val", "type": "quantitative"}}},
      {"data": {"name": "etiquettes"}, "transform": [{"filter": "datum.panneau == 'rsi'"}],
       "mark": {"type": "text", "fontSize": 7, "color": "#222", "baseline": "middle"},
       "encoding": {"x": {"datum": 189, "type": "quantitative"}, "y": {"field": "val", "type": "quantitative"}, "text": {"field": "t"}}}
    ]
  }
]
}
